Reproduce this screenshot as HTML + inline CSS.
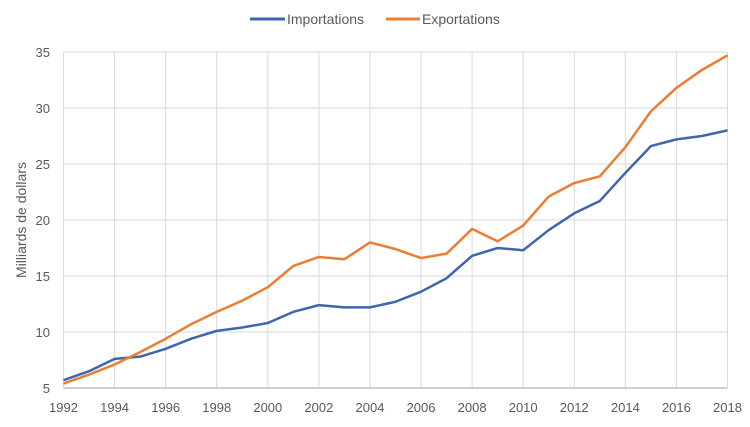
<!DOCTYPE html>
<html><head><meta charset="utf-8"><style>
body{margin:0;background:#fff;}
svg text{font-family:"Liberation Sans",sans-serif;fill:#595959;}
</style></head><body>
<svg width="750" height="422" xmlns="http://www.w3.org/2000/svg">
<g id="grid"></g>
<g id="axes"></g>
<g id="series"></g>
<g>
<line x1="250" y1="19" x2="285" y2="19" stroke="#3f66ad" stroke-width="3"/>
<text x="287" y="24" font-size="14">Importations</text>
<line x1="386" y1="19" x2="420" y2="19" stroke="#ed7d31" stroke-width="3"/>
<text x="422" y="24" font-size="14">Exportations</text>
</g>
<text transform="translate(26,220) rotate(-90)" text-anchor="middle" font-size="14">Milliards de dollars</text>
</svg>
<script>
const years=[1992,1993,1994,1995,1996,1997,1998,1999,2000,2001,2002,2003,2004,2005,2006,2007,2008,2009,2010,2011,2012,2013,2014,2015,2016,2017,2018];
const importations=[5.7,6.5,7.6,7.8,8.5,9.4,10.1,10.4,10.8,11.8,12.4,12.2,12.2,12.7,13.6,14.8,16.8,17.5,17.3,19.1,20.6,21.7,24.2,26.6,27.2,27.5,28.0];
const exportations=[5.4,6.2,7.1,8.2,9.4,10.7,11.8,12.8,14.0,15.9,16.7,16.5,18.0,17.4,16.6,17.0,19.2,18.1,19.5,22.1,23.3,23.9,26.5,29.7,31.8,33.4,34.7];
const yTicks=[5,10,15,20,25,30,35];
const xTicks=[1992,1994,1996,1998,2000,2002,2004,2006,2008,2010,2012,2014,2016,2018];
const NS="http://www.w3.org/2000/svg";
const x0=63.5,x1=727.5,y0=388,y1=52;
const X=v=>x0+(v-1992)/(2018-1992)*(x1-x0);
const Y=v=>y0-(v-5)/(35-5)*(y0-y1);
function mk(t,a,p){const e=document.createElementNS(NS,t);for(const k in a)e.setAttribute(k,a[k]);p.appendChild(e);return e;}
const grid=document.getElementById('grid'),axes=document.getElementById('axes'),series=document.getElementById('series');
yTicks.forEach(v=>{
 if(v>5){const l=mk('line',{x1:x0,x2:x1,y1:Y(v),y2:Y(v),stroke:'#d9d9d9','stroke-width':1},grid);
 
 }
 const t=mk('text',{x:50,y:Y(v)+5,'text-anchor':'end','font-size':13},axes);t.textContent=v;
 
 
});
xTicks.forEach(v=>{
 const l=mk('line',{x1:X(v),x2:X(v),y1:y1,y2:y0,stroke:'#d9d9d9','stroke-width':1},grid);
 
 
 const t=mk('text',{x:X(v),y:412,'text-anchor':'middle','font-size':13},axes);t.textContent=v;
 
 
});
const ax=mk('line',{x1:x0,x2:x1,y1:y0,y2:y0,stroke:'#bfbfbf','stroke-width':1.5},axes);


function line(vals,color,name){
 const p=mk('polyline',{points:vals.map((v,i)=>X(years[i])+','+Y(v)).join(' '),fill:'none',stroke:color,'stroke-width':2.5,'stroke-linejoin':'round'},series);
 
 
}
line(importations,'#3f66ad','importations-line');
line(exportations,'#ed7d31','exportations-line');
</script>
</body></html>
